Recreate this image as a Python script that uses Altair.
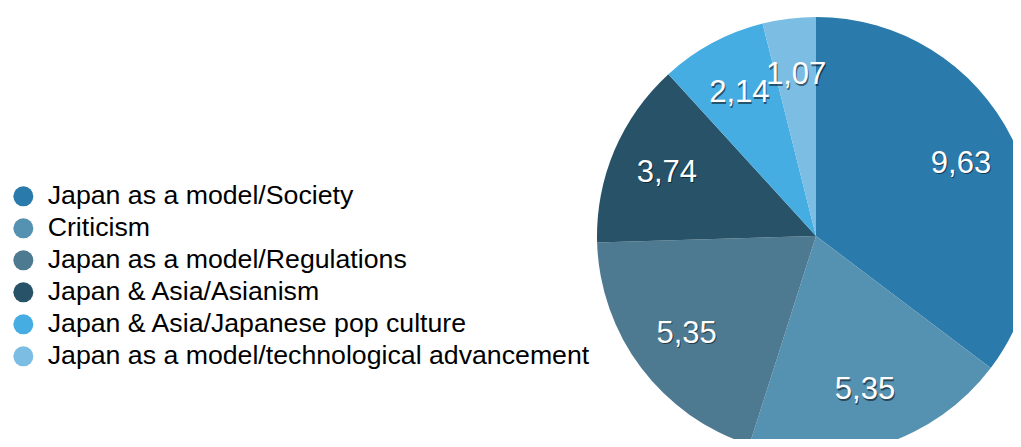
import altair as alt
import pandas as pd

categories = [
    "Japan as a model/Society",
    "Criticism",
    "Japan as a model/Regulations",
    "Japan & Asia/Asianism",
    "Japan & Asia/Japanese pop culture",
    "Japan as a model/technological advancement",
]
values = [9.63, 5.35, 5.35, 3.74, 2.14, 1.07]
labels = ["9,63", "5,35", "5,35", "3,74", "2,14", "1,07"]
colors = ["#2a7aab", "#5591b1", "#4e7a91", "#285267", "#46ade2", "#7bbde3"]

df = pd.DataFrame({
    "category": categories,
    "value": values,
    "label": labels,
    "order": list(range(len(categories))),
})

FONT = "Liberation Sans"
CX, CY, R = 808, 228, 219

color = alt.Color(
    "category:N",
    scale=alt.Scale(domain=categories, range=colors),
    sort=categories,
    legend=alt.Legend(
        title=None,
        orient="none",
        legendX=2,
        legendY=175,
        symbolType="circle",
        symbolSize=400,
        symbolStrokeWidth=0,
        labelFontSize=26.7,
        labelFont=FONT,
        labelColor="#000000",
        labelLimit=700,
        rowPadding=4.0,
        labelOffset=11,
    ),
)

base = alt.Chart(df).encode(
    theta=alt.Theta("value:Q", stack=True),
    order=alt.Order("order:Q"),
)

arcs = base.mark_arc(radius=R, stroke=None).encode(
    color=color,
    x=alt.value(CX),
    y=alt.value(CY),
)

shadow = base.mark_text(
    radius=162, fontSize=31, font=FONT, color="#000000", opacity=0.5, dx=1, dy=1.5,
).encode(text="label:N", x=alt.value(CX), y=alt.value(CY))

text = base.mark_text(
    radius=162, fontSize=31, font=FONT, color="#ffffff",
).encode(text="label:N", x=alt.value(CX), y=alt.value(CY))

chart = alt.layer(arcs, shadow, text).properties(
    width=1005, height=431, padding=0,
    autosize=alt.AutoSizeParams(type="none"),
).configure_view(stroke=None)

chart.save("out.html", embed_options={"renderer": "svg", "actions": False})
